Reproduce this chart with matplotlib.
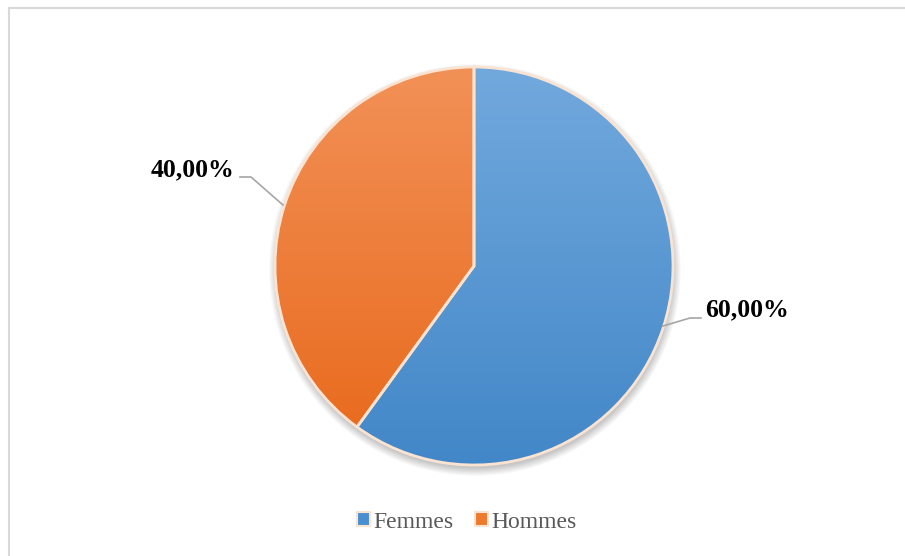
import numpy as np
import matplotlib.pyplot as plt
from matplotlib.patches import Patch, Circle
from matplotlib.colors import LinearSegmentedColormap

categories = ["Femmes", "Hommes"]
shares = [60.0, 40.0]
top_colors = ["#72a9dd", "#f29157"]
bottom_colors = ["#4287c8", "#e8681a"]
solid_colors = ["#4a8fd0", "#ee7a2e"]

W, H = 905, 556
fig = plt.figure(figsize=(W / 100, H / 100), dpi=100)
ax = fig.add_axes([0, 0, 1, 1])

# frame (only top and left edges visible)
ax.plot([8.5, W], [H - 7.5, H - 7.5], color="#d9d9d9", lw=1.5)
ax.plot([8.5, 8.5], [0, H - 7.5], color="#d9d9d9", lw=1.5)

cx, cy, r = 474, H - 266, 199

# soft shadow under the pie
for k in range(14):
    ax.add_patch(Circle((cx + 1, cy - 4), r + 7 - k * 0.6, color="black",
                        alpha=0.016, lw=0, zorder=1))

wedges, _ = ax.pie(shares, startangle=90, counterclock=False, center=(cx, cy),
                   radius=r, colors=solid_colors, frame=True,
                   wedgeprops=dict(edgecolor="#fbe3d2", linewidth=2))
ax.set_xlim(0, W)
ax.set_ylim(0, H)
ax.set_aspect("equal")
ax.axis("off")

# vertical gradient fill clipped to each wedge
grad = np.linspace(1, 0, 256).reshape(-1, 1)
for w, c0, c1 in zip(wedges, top_colors, bottom_colors):
    cmap = LinearSegmentedColormap.from_list("g", [c1, c0])
    im = ax.imshow(grad, cmap=cmap, extent=(cx - r, cx + r, cy - r, cy + r),
                   origin="upper", aspect="auto", zorder=2)
    im.set_clip_path(w)
    w.set_zorder(3)
    w.set_facecolor("none")

def pct(v):
    return f"{v:.2f}".replace(".", ",") + "%"

lfont = dict(family="Liberation Serif", fontweight="bold", fontsize=18.5, color="black")

# Hommes label, left
ax.plot([240, 251, 283], [H - 177, H - 177, H - 205], color="#a6a6a6", lw=1.2, zorder=4)
ax.text(234, H - 170, pct(shares[1]), ha="right", va="center", **lfont)

# Femmes label, right
ax.plot([663, 690, 701], [H - 326, H - 318, H - 318], color="#a6a6a6", lw=1.2, zorder=4)
ax.text(705, H - 310, pct(shares[0]), ha="left", va="center", **lfont)

handles = [Patch(facecolor=c, edgecolor="#fbe3d2", lw=1.5) for c in solid_colors]
fig.legend(handles, categories, loc="center", bbox_to_anchor=(467 / W, 1 - 522 / H),
           ncol=2, frameon=False, handlelength=0.55, handleheight=0.55,
           handletextpad=0.15, columnspacing=0.9,
           prop=dict(family="Liberation Serif", size=17), labelcolor="#595959")

fig.savefig("out.png", dpi=100, facecolor="white")
